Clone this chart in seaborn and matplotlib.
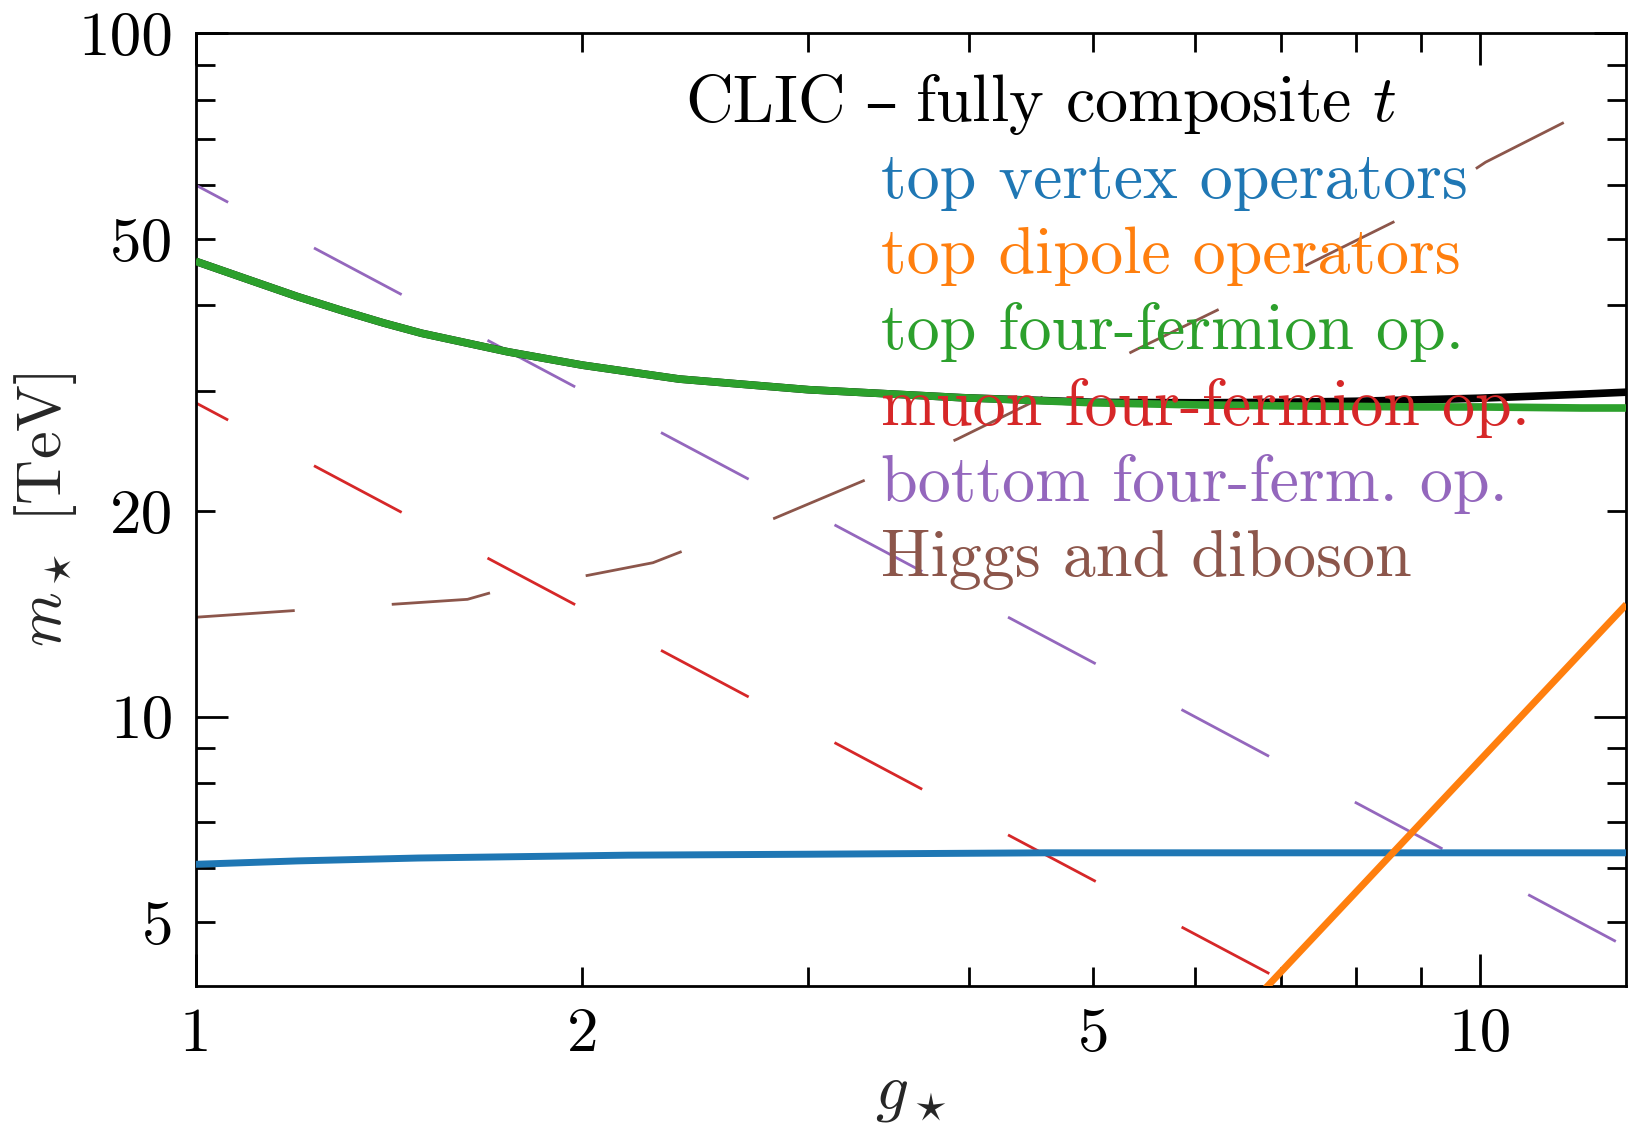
import numpy as np
import pandas as pd
import seaborn as sns
import matplotlib
matplotlib.use("Agg")
import matplotlib.pyplot as plt
from matplotlib.ticker import FixedLocator, FixedFormatter

# ---- data: bounds on m_* [TeV] versus g_* ----
g_vertex = [1.0, 1.2, 1.49, 2.17, 3.0, 4.59, 7.0, 13.0]
m_vertex = [6.08, 6.15, 6.21, 6.27, 6.29, 6.32, 6.32, 6.32]

g_dipole = [6.5, 13.0]
m_dipole = [3.65, 14.6]

g_fourf = [1.0, 1.1, 1.2, 1.3, 1.4, 1.5, 1.75, 2.0, 2.38, 3.0, 3.95, 5.0, 6.0, 7.0, 8.0,
           9.0, 10.0, 11.0, 12.0, 13.0]
m_fourf = [46.4, 43.6, 41.2, 39.3, 37.7, 36.4, 34.2, 32.7, 31.2, 30.1, 29.3, 28.8, 28.6,
           28.5, 28.45, 28.4, 28.4, 28.35, 28.3, 28.3]

g_comb = [1.0, 1.1, 1.2, 1.3, 1.4, 1.5, 1.75, 2.0, 2.38, 3.0, 3.95, 5.0, 6.0, 7.0, 8.0,
          9.0, 10.0, 11.0, 12.0, 13.0]
m_comb = [46.4, 43.6, 41.2, 39.3, 37.7, 36.4, 34.2, 32.7, 31.2, 30.1, 29.3, 28.85, 28.8,
          28.85, 28.95, 29.1, 29.25, 29.45, 29.65, 29.85]

g_muon = [1.0, 2.0, 4.0, 7.3]
m_muon = [28.8, 14.4, 7.2, 3.95]

g_bottom = [1.0, 2.0, 5.0, 13.0]
m_bottom = [60.0, 30.0, 12.0, 4.6]

g_higgs = [1.0, 1.195, 1.42, 1.628, 1.70, 2.02, 2.27, 2.40, 2.82, 3.34, 3.92, 4.59,
           5.39, 6.32, 7.41, 8.69, 10.1, 11.84, 13.0]
m_higgs = [13.98, 14.3, 14.6, 14.85, 15.2, 16.1, 16.8, 17.5, 19.5, 22.3, 25.5, 29.5,
           34.4, 39.8, 46.3, 53.7, 64.8, 75.4, 82.5]

labels = ["top vertex operators", "top dipole operators", "top four-fermion op.",
          "muon four-fermion op.", "bottom four-ferm. op.", "Higgs and diboson"]
colors = ["#1f77b4", "#ff7f0e", "#2ca02c", "#d62728", "#9467bd", "#8c564b"]

x_major = [1, 10]
x_major_labels = ["1", "10"]
x_minor = [2, 3, 4, 5, 6, 7, 8, 9]
x_minor_labels = ["2", "", "", "5", "", "", "", ""]
y_major = [10, 100]
y_major_labels = ["10", "100"]
y_minor = [4, 5, 6, 7, 8, 9, 20, 30, 40, 50, 60, 70, 80, 90]
y_minor_labels = ["", "5", "", "", "", "", "20", "", "", "50", "", "", "", ""]

# ---- style ----
sns.set_theme(style="ticks")
plt.rcParams["font.family"] = ["cmr10", "DejaVu Serif"]
plt.rcParams["mathtext.fontset"] = "cm"
plt.rcParams["axes.unicode_minus"] = False
plt.rcParams["lines.scale_dashes"] = False
plt.rcParams["axes.linewidth"] = 2.0

fig = plt.figure(figsize=(16.4, 11.3), dpi=100)
ax = fig.add_axes([0.1193, 0.1278, 0.8724, 0.8426])
ax.set_xscale("log")
ax.set_yscale("log")

dash_on, dash_off = 71.5, 70.0


def draw(g, m, color, lw, ls="-", z=2):
    df = pd.DataFrame({"g": g, "m": m})
    n_before = len(ax.lines)
    sns.lineplot(data=df, x="g", y="m", ax=ax, color=color, linewidth=lw,
                 estimator=None, sort=False, zorder=z)
    line = ax.lines[n_before]
    line.set_linestyle(ls)
    line.set_solid_capstyle("butt")
    line.set_dash_capstyle("butt")
    line.set_solid_joinstyle("round")
    return line


# dashed bounds
draw(g_higgs, m_higgs, colors[5], 2.0, (0, (dash_on, dash_off)), z=2)
draw(g_muon, m_muon, colors[3], 2.0, (45, (dash_on, dash_off)), z=2)
draw(g_bottom, m_bottom, colors[4], 2.0, (45, (dash_on, dash_off)), z=2)
# solid bounds
draw(g_comb, m_comb, "black", 5.5, z=3)
draw(g_fourf, m_fourf, colors[2], 5.5, z=4)
draw(g_vertex, m_vertex, colors[0], 5.0, z=4)
draw(g_dipole, m_dipole, colors[1], 5.0, z=4)

ax.set_xlim(1, 13.0)
ax.set_ylim(4.04, 100)

# ticks
ax.xaxis.set_major_locator(FixedLocator(x_major))
ax.xaxis.set_major_formatter(FixedFormatter(x_major_labels))
ax.xaxis.set_minor_locator(FixedLocator(x_minor))
ax.xaxis.set_minor_formatter(FixedFormatter(x_minor_labels))
ax.yaxis.set_major_locator(FixedLocator(y_major))
ax.yaxis.set_major_formatter(FixedFormatter(y_major_labels))
ax.yaxis.set_minor_locator(FixedLocator(y_minor))
ax.yaxis.set_minor_formatter(FixedFormatter(y_minor_labels))

ax.tick_params(which="both", direction="in", top=True, right=True,
               labelsize=45.5, colors="black", pad=16)
ax.tick_params(which="major", length=23, width=2.0)
ax.tick_params(which="minor", length=13.5, width=2.0)
for sp in ax.spines.values():
    sp.set_color("black")
    sp.set_linewidth(2.0)

ax.set_xlabel(r"$g_\star$", fontsize=47, labelpad=2)
ax.set_ylabel(r"$m_\star$ [TeV]", fontsize=45, labelpad=0)

# title line, built from pieces so the en dash comes from a font that has it
fs = 47.5
t1 = ax.text(0.342, 0.925, "CLIC", transform=ax.transAxes, fontsize=fs,
             color="black", va="center", ha="left")
t2 = ax.annotate("\u2013", xy=(1, 0.5), xycoords=t1, xytext=(13, 0),
                 textcoords="offset points", fontsize=fs, color="black",
                 va="center", ha="left", family="DejaVu Serif")
t3 = ax.annotate("fully composite $t$", xy=(1, 0.5), xycoords=(t2, t1), xytext=(13, 0),
                 textcoords="offset points", fontsize=fs, color="black",
                 va="center", ha="left")

ys = [0.845, 0.766, 0.686, 0.607, 0.527, 0.447]
for lab, c, yy in zip(labels, colors, ys):
    ax.text(0.479, yy, lab, transform=ax.transAxes, fontsize=fs, color=c,
            va="center", ha="left", zorder=5)

fig.savefig("out.png", dpi=100, facecolor="white")
